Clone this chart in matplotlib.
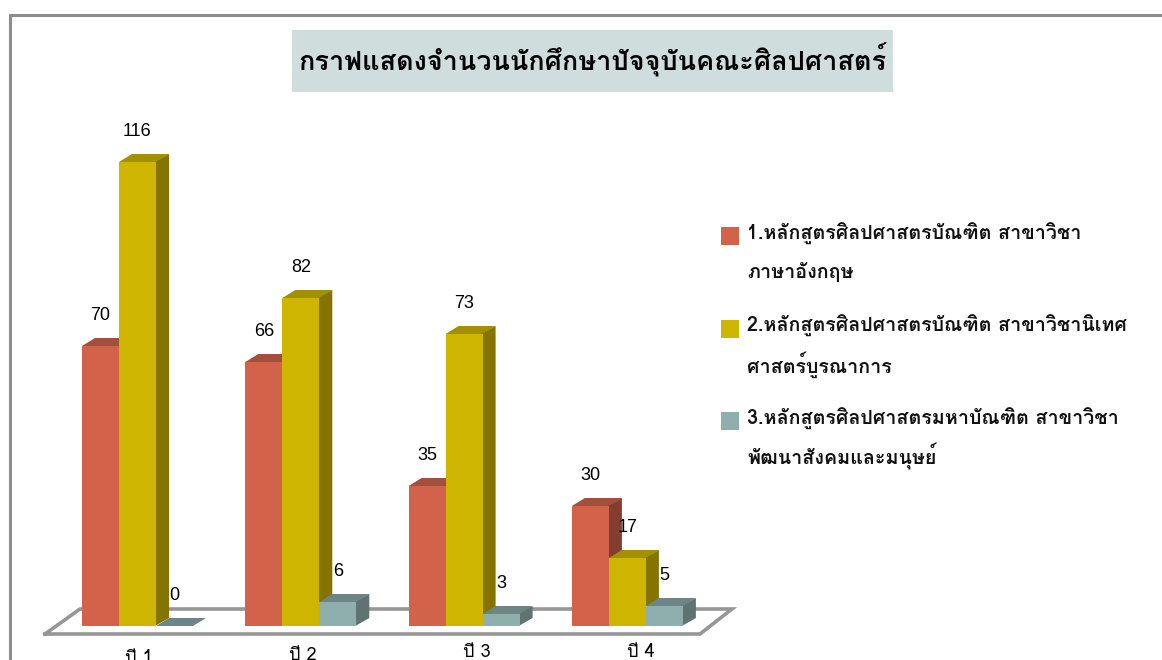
import matplotlib
matplotlib.use('Agg')
import matplotlib.pyplot as plt
from matplotlib.patches import Polygon, Rectangle

plt.rcParams['font.family'] = ['Loma', 'Liberation Sans', 'DejaVu Sans']

title = 'กราฟแสดงจำนวนนักศึกษาปัจจุบันคณะศิลปศาสตร์'
years = ['ปี 1', 'ปี 2', 'ปี 3', 'ปี 4']
ba_english = [70, 66, 35, 30]
ba_integrated = [116, 82, 73, 17]
ma_social = [0, 6, 3, 5]
legend_lines = [
    ['1.หลักสูตรศิลปศาสตรบัณฑิต สาขาวิชา', 'ภาษาอังกฤษ'],
    ['2.หลักสูตรศิลปศาสตรบัณฑิต สาขาวิชานิเทศ', 'ศาสตร์บูรณาการ'],
    ['3.หลักสูตรศิลปศาสตรมหาบัณฑิต สาขาวิชา', 'พัฒนาสังคมและมนุษย์'],
]

W, H = 1162, 660
fig = plt.figure(figsize=(W / 100, H / 100), dpi=100, facecolor='white')

# page layer in pixels, for the frame, title box and legend
page = fig.add_axes([0, 0, 1, 1])
page.set_xlim(0, W)
page.set_ylim(H, 0)
page.axis('off')
# only the top and left of the slide frame are in the crop
page.plot([W, 9.5, 9.5], [14.5, 14.5, H], color='#8c8c8c', lw=2.2, solid_joinstyle='miter')
page.add_patch(Rectangle((292, 30), 601, 62, fc='#cfdddd', ec='none'))
page.text(592, 60, title, ha='center', va='center', fontsize=19.5, weight='bold', color='black')

series = [
    (ba_english, '#d2624a', '#a44f3a', '#843d2e'),
    (ba_integrated, '#cdb500', '#a38f00', '#857500'),
    (ma_social, '#8fafaf', '#6e8585', '#5f7372'),
]
for k, (lines, s) in enumerate(zip(legend_lines, series)):
    page.add_patch(Rectangle((721, 227 + k * 92.5), 18, 18, fc=s[1], ec='none'))
    page.text(747, 233.5 + k * 92.5, lines[0], va='center', fontsize=14.2, weight='bold', color='#111111')
    page.text(747, 272 + k * 92.5, lines[1], va='center', fontsize=14.2, weight='bold', color='#111111')

# chart axes: 4 px per student, 163.3 px per year, baseline at y=626
ax = fig.add_axes([0, 0, 1, 1], facecolor='none')
ax.set_xlim(-137.5 / 163.3, (W - 137.5) / 163.3)
ax.set_ylim(-(H - 626) / 4, 626 / 4)
ax.axis('off')

px = 1 / 163.3
bar_w = 37 * px
dx = 13 * px
dy = 8 / 4

# floor
floor_x = [-92.5 * px, -57.5 * px, 594.5 * px, 562.5 * px, -92.5 * px]
floor_y = [-2, 4.25, 4.25, -2, -2]
ax.plot(floor_x, floor_y, color='#969696', lw=2.6, solid_joinstyle='miter', zorder=1)

label_dy = 30.5 * 0.72
for j in range(len(years)):
    for i, (vals, front, top, side) in enumerate(series):
        v = vals[j]
        x0 = j + (i - 1.5) * bar_w
        x1 = x0 + bar_w
        z = 2 + i * 2 + j * 10
        # top and side go under the front face, so no dark seam shows between bars
        ax.add_patch(Polygon([(x0, v), (x0 + dx, v + dy), (x1 + dx, v + dy), (x1, v)], fc=top, ec='none', zorder=z))
        ax.add_patch(Polygon([(x1 - px, 0), (x1 + dx, dy), (x1 + dx, v + dy), (x1 - px, v)], fc=side, ec='none', zorder=z))
        ax.bar(x0, v, width=bar_w, align='edge', color=front, zorder=z + 0.5)
        ax.annotate(str(v), (x0 + bar_w / 2, v), xytext=(0, label_dy), textcoords='offset points',
                    ha='center', va='center', fontsize=13, family='Liberation Sans', color='black', zorder=60)

# the year labels drift in the original and the first two get cut by the page edge
label_px = [(139, 658), (303, 655), (477, 652), (641, 652)]
for name, (lx, ly) in zip(years, label_px):
    page.text(lx, ly, name, ha='center', va='center', fontsize=13, color='black', zorder=70)

fig.savefig('out.png', dpi=100)
